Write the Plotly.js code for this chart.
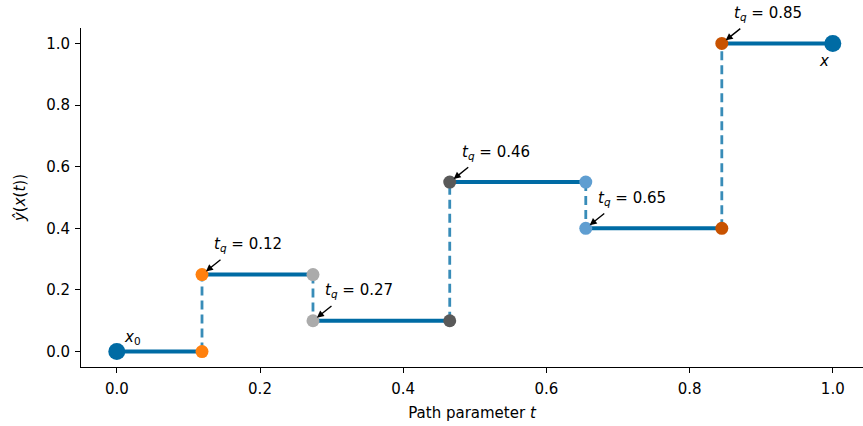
<!DOCTYPE html>
<html>
<head>
<meta charset="utf-8">
<script src="https://cdn.plot.ly/plotly-3.0.1.min.js"></script>
<style>html,body{margin:0;padding:0;background:#fff;}#chart{width:863px;height:426px;}</style>
</head>
<body>
<div id="chart"></div>
<script>
// Query points (path parameter) and prediction levels
const tq = [0.119, 0.274, 0.465, 0.655, 0.845];
const tqLabels = ['0.12', '0.27', '0.46', '0.65', '0.85'];
const levels = [0.0, 0.25, 0.10, 0.55, 0.40, 1.0];
const pointColors = ['#FF800E', '#ABABAB', '#595959', '#5F9ED1', '#C85200'];
const xTicks = [0.0, 0.2, 0.4, 0.6, 0.8, 1.0];
const yTicks = [0.0, 0.2, 0.4, 0.6, 0.8, 1.0];

const lineColor = '#006BA4';
const xs = [0].concat(tq, [1]);

// horizontal solid segments
const hx = [], hy = [];
for (let i = 0; i < levels.length; i++) {
  hx.push(xs[i], xs[i + 1], null);
  hy.push(levels[i], levels[i], null);
}
// vertical dashed jumps
const vx = [], vy = [];
for (let i = 0; i < tq.length; i++) {
  vx.push(tq[i], tq[i], null);
  vy.push(levels[i], levels[i + 1], null);
}

const traces = [];
traces.push({x: vx, y: vy, mode: 'lines', line: {color: 'rgba(0,107,164,0.78)', width: 2.8, dash: '9px,5px'}, hoverinfo: 'skip', showlegend: false});
traces.push({x: hx, y: hy, mode: 'lines', line: {color: lineColor, width: 4}, hoverinfo: 'skip', showlegend: false});
for (let i = 0; i < tq.length; i++) {
  traces.push({x: [tq[i], tq[i]], y: [levels[i], levels[i + 1]], mode: 'markers',
    marker: {color: pointColors[i], size: 13}, showlegend: false});
}
traces.push({x: [0, 1], y: [levels[0], levels[levels.length - 1]], mode: 'markers',
  marker: {color: lineColor, size: 17}, showlegend: false});

const font = {family: 'DejaVu Sans', size: 15, color: '#000'};
const annotations = [];
for (let i = 0; i < tq.length; i++) {
  annotations.push({x: tq[i], y: levels[i + 1], xref: 'x', yref: 'y',
    text: '<i>t</i><sub><i>q</i></sub> = ' + tqLabels[i], showarrow: false,
    xanchor: 'left', yanchor: 'middle', xshift: 10, yshift: 30, font: font});
  annotations.push({x: tq[i], y: levels[i + 1], xref: 'x', yref: 'y', text: '',
    showarrow: true, arrowhead: 2, arrowsize: 1, arrowwidth: 1.4, arrowcolor: '#000',
    ax: 20, ay: -16, standoff: 5});
}
annotations.push({x: 0, y: levels[0], xref: 'x', yref: 'y', text: '<i>x</i><sub>0</sub>',
  showarrow: false, xanchor: 'left', yanchor: 'middle', xshift: 5, yshift: 14, font: font});
annotations.push({x: 1, y: levels[levels.length - 1], xref: 'x', yref: 'y', text: '<i>x</i>',
  showarrow: false, xanchor: 'center', yanchor: 'middle', xshift: -9, yshift: -18, font: font});

const layout = {
  width: 863, height: 426,
  margin: {l: 81, r: 0, t: 28, b: 59},
  paper_bgcolor: '#fff', plot_bgcolor: '#fff',
  font: font,
  showlegend: false,
  xaxis: {range: [-0.05, 1.0422], tickvals: xTicks, ticktext: xTicks.map(v => v.toFixed(1)),
    showgrid: false, zeroline: false, showline: true, linecolor: '#000', linewidth: 1,
    ticks: 'outside', ticklen: 5, tickcolor: '#000', tickfont: font, ticklabelstandoff: 3,
    title: {text: 'Path parameter <i>t</i>', font: font, standoff: 10}},
  yaxis: {range: [-0.05, 1.05], tickvals: yTicks, ticktext: yTicks.map(v => v.toFixed(1)),
    showgrid: false, zeroline: false, showline: true, linecolor: '#000', linewidth: 1,
    ticks: 'outside', ticklen: 5, tickcolor: '#000', tickfont: font, ticklabelstandoff: 2,
    title: {text: '<i>ŷ</i>(<i>x</i>(<i>t</i>))', font: font, standoff: 16}},
  annotations: annotations
};

Plotly.newPlot('chart', traces, layout, {displayModeBar: false, staticPlot: true});
</script>
</body>
</html>
